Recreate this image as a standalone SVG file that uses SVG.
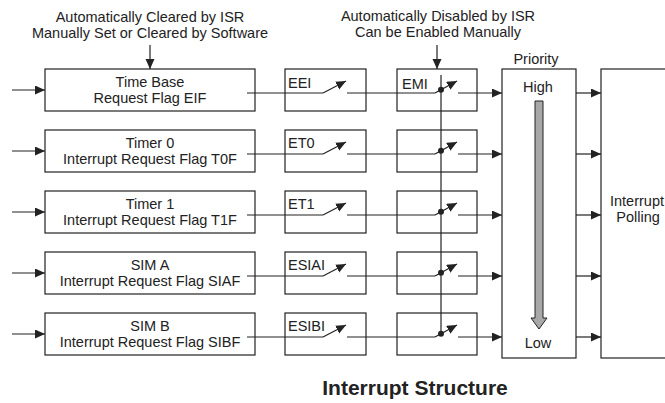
<svg xmlns="http://www.w3.org/2000/svg" width="665" height="403" viewBox="0 0 665 403">
<defs>
<marker id="ah" markerUnits="userSpaceOnUse" markerWidth="12" markerHeight="10" refX="10" refY="4.5" orient="auto">
<path d="M0,0 L10,4.5 L0,9 Z" fill="#222"/>
</marker>
<marker id="sw" markerUnits="userSpaceOnUse" markerWidth="12" markerHeight="10" refX="10" refY="4.5" orient="auto">
<path d="M0,0 L10,4.5 L0,9 Z" fill="#222"/>
</marker>
</defs>
<style>
.box{fill:#fff;stroke:#222;stroke-width:1.2}
.ln{fill:none;stroke:#222;stroke-width:1.2}
.arr{fill:none;stroke:#222;stroke-width:1.2;marker-end:url(#ah)}
.swl{fill:none;stroke:#222;stroke-width:1.2;marker-end:url(#sw)}
text{font-family:"Liberation Sans",Arial,sans-serif;font-size:14.5px;fill:#222}
.c{text-anchor:middle}
.lbl{font-size:14.5px}
.title{font-size:21px;font-weight:bold}
</style>
<rect width="665" height="403" fill="#fff"/>

<g id="header-flags">
<text class="c" x="150" y="22">Automatically Cleared by ISR</text>
<text class="c" x="150" y="38">Manually Set or Cleared by Software</text>
</g>
<g id="header-emi">
<text class="c" x="438" y="21">Automatically Disabled by ISR</text>
<text class="c" x="438" y="37">Can be Enabled Manually</text>
</g>

<g id="flag-eif">
<rect class="box" x="45" y="69" width="210" height="42"/>
<text class="c" x="150" y="87">Time Base</text>
<text class="c" x="150" y="103">Request Flag EIF</text>
</g>
<g id="flag-t0f">
<rect class="box" x="45" y="130" width="210" height="42"/>
<text class="c" x="150" y="148">Timer 0</text>
<text class="c" x="150" y="164">Interrupt Request Flag T0F</text>
</g>
<g id="flag-t1f">
<rect class="box" x="45" y="191" width="210" height="42"/>
<text class="c" x="150" y="209">Timer 1</text>
<text class="c" x="150" y="225">Interrupt Request Flag T1F</text>
</g>
<g id="flag-siaf">
<rect class="box" x="45" y="252" width="210" height="42"/>
<text class="c" x="150" y="270">SIM A</text>
<text class="c" x="150" y="286">Interrupt Request Flag SIAF</text>
</g>
<g id="flag-sibf">
<rect class="box" x="45" y="313" width="210" height="42"/>
<text class="c" x="150" y="331">SIM B</text>
<text class="c" x="150" y="347">Interrupt Request Flag SIBF</text>
</g>

<g id="en-eei"><rect class="box" x="285" y="69" width="81" height="42"/><text class="lbl" x="288" y="88">EEI</text></g>
<g id="en-et0"><rect class="box" x="285" y="130" width="81" height="42"/><text class="lbl" x="288" y="148">ET0</text></g>
<g id="en-et1"><rect class="box" x="285" y="191" width="81" height="42"/><text class="lbl" x="288" y="209">ET1</text></g>
<g id="en-esiai"><rect class="box" x="285" y="252" width="81" height="42"/><text class="lbl" x="288" y="270">ESIAI</text></g>
<g id="en-esibi"><rect class="box" x="285" y="313" width="81" height="42"/><text class="lbl" x="288" y="331">ESIBI</text></g>

<g id="emi-1"><rect class="box" x="397" y="69" width="80" height="42"/><text class="lbl" x="402" y="89">EMI</text></g>
<g id="emi-2"><rect class="box" x="397" y="130" width="80" height="42"/></g>
<g id="emi-3"><rect class="box" x="397" y="191" width="80" height="42"/></g>
<g id="emi-4"><rect class="box" x="397" y="252" width="80" height="42"/></g>
<g id="emi-5"><rect class="box" x="397" y="313" width="80" height="42"/></g>

<g id="priority">
<text class="c" x="536" y="64">Priority</text>
<rect class="box" x="502" y="69" width="74" height="289"/>
<text class="c" x="538" y="92">High</text>
<path d="M535,101 L543,101 L543,318 L547,318 L539,329 L531,318 L535,318 Z" fill="#a8a8a8" stroke="#222" stroke-width="1"/>
<text class="c" x="538" y="348">Low</text>
</g>

<g id="polling">
<rect class="box" x="601" y="69" width="80" height="289"/>
<text class="c" x="637" y="206">Interrupt</text>
<text class="c" x="638" y="222">Polling</text>
</g>

<g id="connectors">
<line class="arr" x1="150" y1="45" x2="150" y2="69"/>
<line class="arr" x1="437" y1="45" x2="437" y2="69"/>
<line class="ln" x1="441" y1="75" x2="441" y2="334"/>

<line class="arr" x1="12" y1="90" x2="45" y2="90"/>
<line class="arr" x1="12" y1="151" x2="45" y2="151"/>
<line class="arr" x1="12" y1="212" x2="45" y2="212"/>
<line class="arr" x1="12" y1="273" x2="45" y2="273"/>
<line class="arr" x1="12" y1="334" x2="45" y2="334"/>

<line class="ln" x1="247" y1="93" x2="323" y2="93"/>
<line class="swl" x1="323" y1="93" x2="346" y2="81"/>
<line class="ln" x1="347" y1="93" x2="435" y2="93"/>
<line class="swl" x1="435" y1="93" x2="457" y2="81"/>
<circle cx="441" cy="89.7" r="3" fill="#222"/>
<line class="arr" x1="458" y1="93" x2="502" y2="93"/>
<line class="arr" x1="576" y1="93" x2="601" y2="93"/>

<line class="ln" x1="247" y1="154" x2="323" y2="154"/>
<line class="swl" x1="323" y1="154" x2="346" y2="142"/>
<line class="ln" x1="347" y1="154" x2="435" y2="154"/>
<line class="swl" x1="435" y1="154" x2="457" y2="142"/>
<circle cx="441" cy="150.7" r="3" fill="#222"/>
<line class="arr" x1="458" y1="154" x2="502" y2="154"/>
<line class="arr" x1="576" y1="154" x2="601" y2="154"/>

<line class="ln" x1="247" y1="215" x2="323" y2="215"/>
<line class="swl" x1="323" y1="215" x2="346" y2="203"/>
<line class="ln" x1="347" y1="215" x2="435" y2="215"/>
<line class="swl" x1="435" y1="215" x2="457" y2="203"/>
<circle cx="441" cy="211.7" r="3" fill="#222"/>
<line class="arr" x1="458" y1="215" x2="502" y2="215"/>
<line class="arr" x1="576" y1="215" x2="601" y2="215"/>

<line class="ln" x1="247" y1="276" x2="323" y2="276"/>
<line class="swl" x1="323" y1="276" x2="346" y2="264"/>
<line class="ln" x1="347" y1="276" x2="435" y2="276"/>
<line class="swl" x1="435" y1="276" x2="457" y2="264"/>
<circle cx="441" cy="272.7" r="3" fill="#222"/>
<line class="arr" x1="458" y1="276" x2="502" y2="276"/>
<line class="arr" x1="576" y1="276" x2="601" y2="276"/>

<line class="ln" x1="247" y1="337" x2="323" y2="337"/>
<line class="swl" x1="323" y1="337" x2="346" y2="325"/>
<line class="ln" x1="347" y1="337" x2="435" y2="337"/>
<line class="swl" x1="435" y1="337" x2="457" y2="325"/>
<circle cx="441" cy="333.7" r="3" fill="#222"/>
<line class="arr" x1="458" y1="337" x2="502" y2="337"/>
<line class="arr" x1="576" y1="337" x2="601" y2="337"/>
</g>

<text class="title c" x="415" y="395">Interrupt Structure</text>
</svg>
